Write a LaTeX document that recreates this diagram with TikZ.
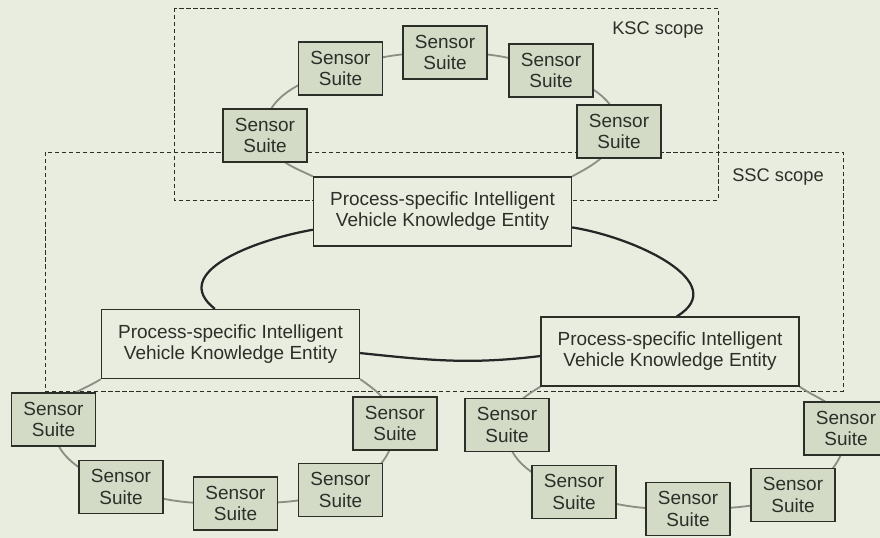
\documentclass[tikz,border=0pt]{standalone}
\usepackage{fontspec}
\setmainfont{Liberation Sans}
\usetikzlibrary{backgrounds}
\definecolor{paper}{RGB}{232,237,224}
\definecolor{suitefill}{RGB}{211,219,199}
\definecolor{ink}{RGB}{44,46,40}
\definecolor{ringgray}{RGB}{140,142,132}

\begin{document}
\begin{tikzpicture}[x=0.025cm, y=-0.025cm,
    suite/.style={draw=ink, fill=suitefill, line width=0.9pt, minimum width=2.1cm, minimum height=1.325cm, align=center, inner sep=1pt, text=ink, font=\fontsize{13.5}{15}\selectfont},
    entity/.style={draw=ink, fill=paper, line width=0.9pt, minimum width=6.45cm, minimum height=1.725cm, align=center, inner sep=1pt, text=ink, font=\fontsize{13.5}{15}\selectfont},
    ring/.style={ringgray, line width=1.3pt},
    core/.style={black!85, line width=1.6pt},
    scopeline/.style={draw=ink, line width=0.7pt, dash pattern=on 3pt off 2pt},
    tag/.style={text=ink, font=\fontsize{13}{15}\selectfont}]
  \useasboundingbox (0,0) rectangle (880,538);

      \node[entity] (PT) at (442.5,211.5) {Process-specific Intelligent\\Vehicle Knowledge Entity};
      \node[entity] (PL) at (230.5,344) {Process-specific Intelligent\\Vehicle Knowledge Entity};
      \node[entity] (PR) at (670,351.5) {Process-specific Intelligent\\Vehicle Knowledge Entity};

      \node[suite] (T1) at (265,135.5) {Sensor\\Suite};
      \node[suite] (T2) at (340.5,68.5) {Sensor\\Suite};
      \node[suite] (T3) at (445,52.5) {Sensor\\Suite};
      \node[suite] (T4) at (551,70.5) {Sensor\\Suite};
      \node[suite] (T5) at (619,131.5) {Sensor\\Suite};

      \node[suite] (L1) at (53.5,419.5) {Sensor\\Suite};
      \node[suite] (L2) at (121,487) {Sensor\\Suite};
      \node[suite] (L3) at (235.5,503.5) {Sensor\\Suite};
      \node[suite] (L4) at (340.5,490) {Sensor\\Suite};
      \node[suite] (L5) at (395,423.5) {Sensor\\Suite};

      \node[suite] (R1) at (507,425) {Sensor\\Suite};
      \node[suite] (R2) at (574,492) {Sensor\\Suite};
      \node[suite] (R3) at (688,509) {Sensor\\Suite};
      \node[suite] (R4) at (793,495) {Sensor\\Suite};
      \node[suite] (R5) at (846,428.5) {Sensor\\Suite};

      \node[tag] (KSC) at (658,30) {KSC scope};
      \node[tag] (SSC) at (778,177) {SSC scope};

  \begin{scope}[on background layer]
      \fill[paper] (0,0) rectangle (880,538);
      \draw[scopeline] (174,8) rectangle (718,200);
      \draw[scopeline] (45,152) rectangle (843,391);

        \path[ring] (T5.center) edge[out=92, in=340] (T4.center)
            (T4.center) edge[out=160, in=0] (T3.center)
            (T3.center) edge[out=180, in=18] (T2.center)
            (T2.center) edge[out=198, in=94] (T1.center)
            (T1.center) edge[out=285, in=155] (PT.north west)
            (PT.north east) edge[out=28, in=250] (T5.center)
            (PL.south west) edge[out=212, in=80] (L1.center)
            (L1.center) edge[out=265, in=161] (L2.center)
            (L2.center) edge[out=341, in=181] (L3.center)
            (L3.center) edge[out=1, in=199] (L4.center)
            (L4.center) edge[out=19, in=270] (L5.center)
            (L5.center) edge[out=100, in=-35] (PL.south east)
            (PR.south west) edge[out=212, in=80] (R1.center)
            (R1.center) edge[out=265, in=161] (R2.center)
            (R2.center) edge[out=341, in=181] (R3.center)
            (R3.center) edge[out=1, in=199] (R4.center)
            (R4.center) edge[out=19, in=270] (R5.center)
            (R5.center) edge[out=100, in=-35] (PR.south east);

        \path[core] (PT.188) edge[out=190, in=142, looseness=1.2] (PL.114)
            (PL.-4) edge[out=-6, in=187] (PR.182)
            (PR.79) edge[out=31, in=-9, looseness=1.2] (PT.-7);
  \end{scope}
\end{tikzpicture}
\end{document}
